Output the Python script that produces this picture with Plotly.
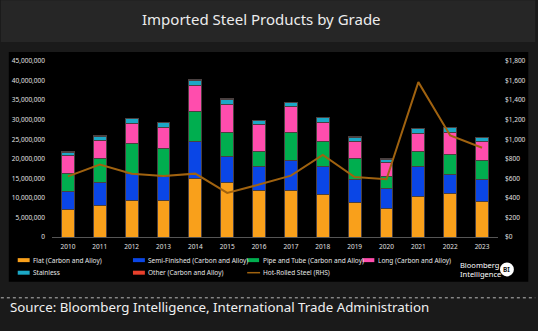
import plotly.graph_objects as go

years = [str(y) for y in range(2010, 2024)]
flat = [6.94, 8.11, 9.39, 9.23, 14.92, 13.98, 11.94, 11.94, 10.84, 8.72, 7.35, 10.33, 11.02, 8.98]
semi = [4.60, 5.87, 6.81, 6.28, 9.52, 6.56, 6.04, 7.50, 7.14, 6.02, 5.02, 7.65, 4.92, 5.76]
pipe = [4.75, 6.05, 7.65, 7.07, 7.65, 6.19, 3.91, 7.40, 6.46, 5.29, 2.99, 3.91, 5.28, 4.85]
long_ = [4.52, 4.66, 5.28, 5.44, 6.74, 7.15, 6.99, 6.45, 4.95, 4.51, 3.72, 4.69, 5.44, 4.85]
stainless = [0.90, 1.13, 1.10, 1.13, 1.27, 1.27, 0.84, 1.10, 1.10, 0.84, 0.77, 1.10, 1.27, 0.94]
other = [0.15, 0.10, 0.10, 0.10, 0.15, 0.20, 0.15, 0.10, 0.10, 0.20, 0.10, 0.10, 0.10, 0.10]
hrc = [620, 740, 648, 624, 648, 451, 536, 628, 839, 614, 590, 1584, 1039, 913]

series = [
    ("Flat (Carbon and Alloy)", flat, "#F9A01B"),
    ("Semi-Finished (Carbon and Alloy)", semi, "#0A46E6"),
    ("Pipe and Tube (Carbon and Alloy)", pipe, "#00AE4F"),
    ("Long (Carbon and Alloy)", long_, "#FF4DAD"),
    ("Stainless", stainless, "#1BA8C6"),
    ("Other (Carbon and Alloy)", other, "#E8402C"),
]
line_name = "Hot-Rolled Steel (RHS)"
line_color = "#A0620F"

W, H = 538, 331
L, R, T, B = 51.5, 500.5, 61, 237.5

fig = go.Figure()
for name, vals, col in series:
    fig.add_trace(go.Bar(
        x=years, y=[v * 1e6 for v in vals], name=name,
        marker=dict(color=col, line=dict(color="#4a4040", width=1)),
        width=0.4, showlegend=False))
fig.add_trace(go.Scatter(x=years, y=hrc, name=line_name, yaxis="y2", mode="lines",
                         line=dict(color=line_color, width=2), showlegend=False))

def px(x):
    return (x - L) / (R - L)

def py(y):
    return (B - y) / (B - T)

shapes = [
    dict(type="rect", xref="paper", yref="paper", x0=px(0), x1=px(W), y0=py(42), y1=py(0),
         fillcolor="#262626", line=dict(width=0), layer="below"),
    dict(type="rect", xref="paper", yref="paper", x0=px(8), x1=px(531), y0=py(282.5), y1=py(52),
         fillcolor="#000000", line=dict(width=0), layer="below"),
    dict(type="line", xref="paper", yref="paper", x0=px(0), x1=px(W), y0=py(298.5), y1=py(298.5),
         line=dict(color="#bbbbbb", width=1, dash="dot")),
]
annotations = [
    dict(text="Imported Steel Products by Grade", xref="paper", yref="paper",
         x=px(262), y=py(19), xanchor="center", yanchor="middle", showarrow=False,
         font=dict(family="Noto Sans", size=15, color="#ececec")),
    dict(text="Source: Bloomberg Intelligence, International Trade Administration", xref="paper",
         yref="paper", x=px(7), y=py(307.5), xanchor="left", yanchor="middle", showarrow=False,
         font=dict(family="Noto Sans", size=13.3, color="#f0f0f0")),
    dict(text="Bloomberg", xref="paper", yref="paper", x=px(460), y=py(266),
         xanchor="left", yanchor="middle", showarrow=False,
         font=dict(family="Noto Sans", size=7.5, color="#ffffff")),
    dict(text="Intelligence", xref="paper", yref="paper", x=px(460), y=py(275),
         xanchor="left", yanchor="middle", showarrow=False,
         font=dict(family="Noto Sans", size=7.5, color="#ffffff")),
    dict(text="<b>BI</b>", xref="paper", yref="paper", x=px(509.5), y=py(270),
         xanchor="center", yanchor="middle", showarrow=False,
         font=dict(family="Noto Sans", size=6.5, color="#111111")),
]
shapes.append(dict(type="circle", xref="paper", yref="paper", x0=px(502.5), x1=px(516.5),
                   y0=py(277), y1=py(263), fillcolor="#ffffff", line=dict(width=0)))

# custom legend
legend_items = [
    (series[0][0], series[0][2], 17, 260.7, "bar"),
    (series[1][0], series[1][2], 133, 260.7, "bar"),
    (series[2][0], series[2][2], 248, 260.7, "bar"),
    (series[3][0], series[3][2], 364, 260.7, "bar"),
    (series[4][0], series[4][2], 17, 273.3, "bar"),
    (series[5][0], series[5][2], 133, 273.3, "bar"),
    (line_name, line_color, 248, 273.3, "line"),
]
for name, col, x0, yc, kind in legend_items:
    if kind == "bar":
        shapes.append(dict(type="rect", xref="paper", yref="paper", x0=px(x0), x1=px(x0 + 12),
                           y0=py(yc + 2), y1=py(yc - 2), fillcolor=col, line=dict(width=0)))
    else:
        shapes.append(dict(type="line", xref="paper", yref="paper", x0=px(x0), x1=px(x0 + 13),
                           y0=py(yc), y1=py(yc), line=dict(color=col, width=1.5)))
    annotations.append(dict(text=name, xref="paper", yref="paper", x=px(x0 + 13.5), y=py(yc),
                            xanchor="left", yanchor="middle", showarrow=False,
                            font=dict(family="Noto Sans", size=6.5, color="#e6e6e6")))

tickfont = dict(family="Noto Sans", size=6.5, color="#e0e0e0")
fig.update_layout(
    width=W, height=H,
    margin=dict(l=L, r=W - R, t=T, b=H - B, pad=0),
    paper_bgcolor="#1a1a1a", plot_bgcolor="rgba(0,0,0,0)",
    barmode="stack", bargap=0.6,
    showlegend=False,
    shapes=shapes, annotations=annotations,
    xaxis=dict(type="category", range=[-0.5, 13.5], showgrid=False, showline=True,
               linecolor="#555555", linewidth=1, ticks="", tickfont=tickfont,
               ticklabelstandoff=3),
    yaxis=dict(range=[0, 45e6], dtick=5e6, tickformat=",d", showgrid=False,
               zeroline=False, showline=False, tickfont=tickfont, ticks="",
               ticklabelstandoff=6),
    yaxis2=dict(range=[0, 1800], dtick=200, tickprefix="$", tickformat=",d", overlaying="y",
                side="right", showgrid=False, zeroline=False, showline=False, ticks="",
                tickfont=tickfont, ticklabelstandoff=6),
)

fig.write_html("out.html")
